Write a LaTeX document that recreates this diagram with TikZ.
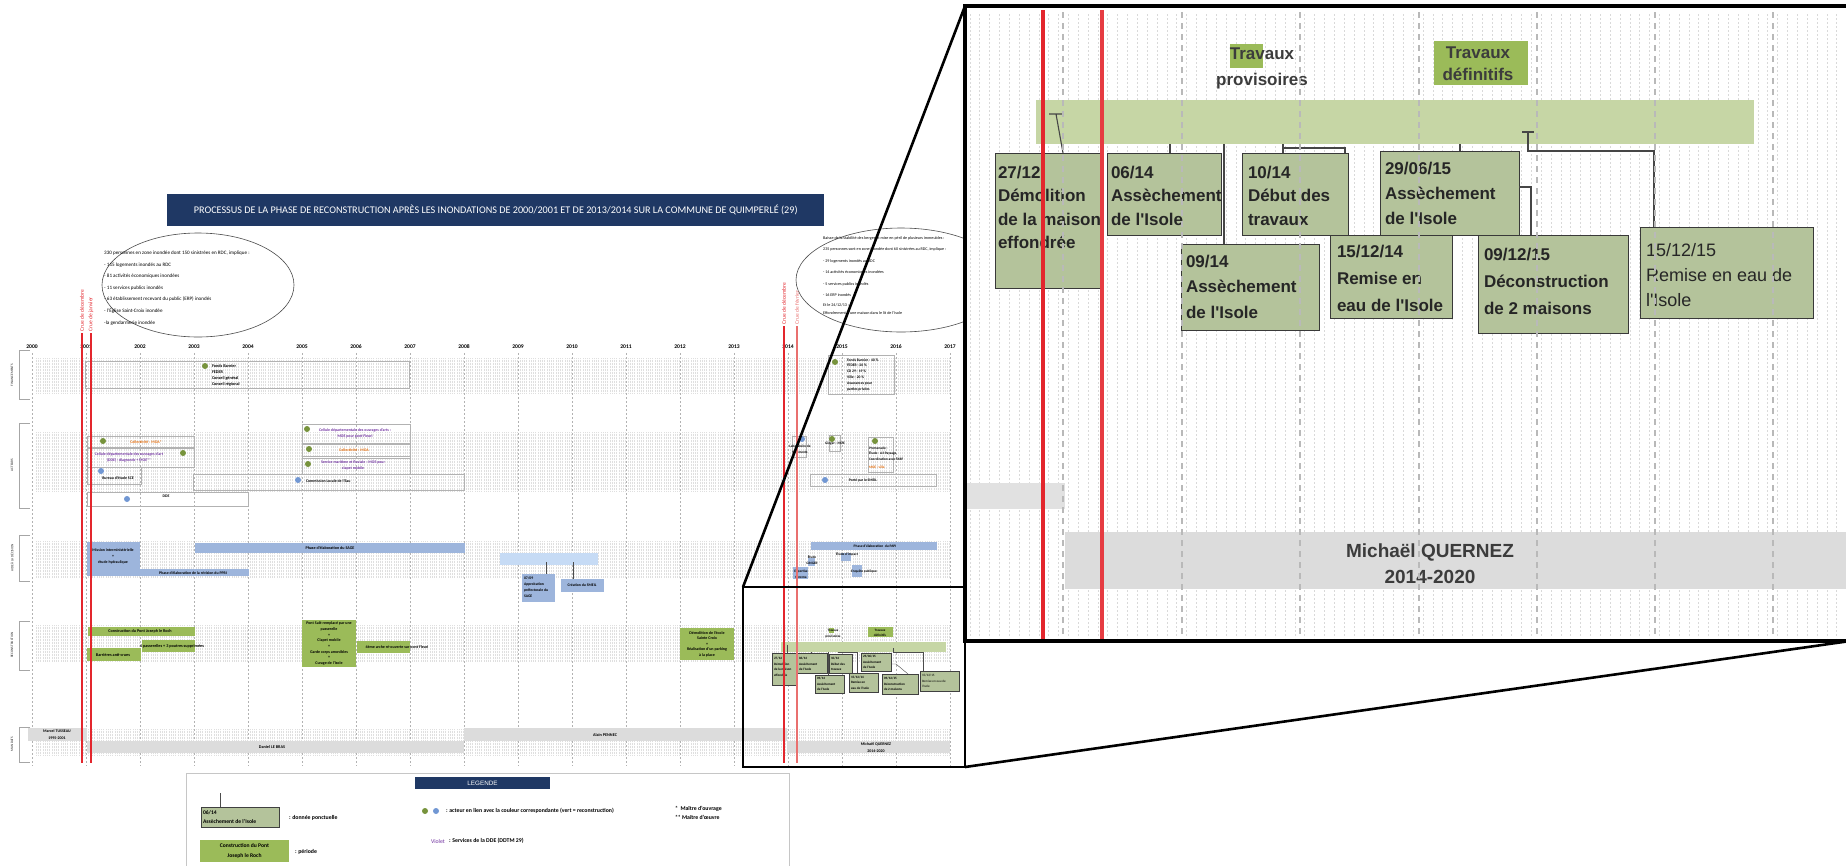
\documentclass[tikz,border=0pt]{standalone}
\usepackage{fontspec}
\setmainfont{Carlito}
\newfontfamily\arialfont{Liberation Sans}
\usetikzlibrary{calc,shapes.geometric}
\newcommand\fsz[2]{\fontsize{#1}{#2}\selectfont}
% rectangle node given by its two corners: name, x1, y1, x2, y2, style
\newcommand\rbox[6]{\node[#6, minimum width={(#4)-(#2)}, minimum height={(#5)-(#3)}, anchor=north west, inner sep=0pt, outer sep=0pt] (#1) at (#2,#3) {};}
\definecolor{navy}{HTML}{1F3864}
\definecolor{recgreen}{HTML}{9BBB59}
\definecolor{dotgreen}{HTML}{77933C}
\definecolor{dotblue}{HTML}{7197D3}
\definecolor{aideblue}{HTML}{9DB5DC}
\definecolor{aidelight}{HTML}{C6DBF5}
\definecolor{pointfill}{HTML}{B4C39B}
\definecolor{bandolive}{HTML}{C6D6A5}
\definecolor{mandatgrey}{HTML}{DCDCDC}
\definecolor{crue}{HTML}{E3262D}
\definecolor{cruelight}{HTML}{E9706F}
\definecolor{orangetxt}{HTML}{E46C0A}
\definecolor{violettxt}{HTML}{7030A0}
\definecolor{insettxt}{HTML}{262626}
\begin{document}
\begin{tikzpicture}[x=1pt, y=-1pt,
  yeargrid/.style={gray!60, line width=0.6, dash pattern=on 2pt off 2pt},
  monthdot/.style={gray!25, line width=0.45, dash pattern=on 0.6pt off 0.9pt},
  bracket/.style={gray!70, line width=0.8},
  frm/.style={draw=gray!60, line width=0.55},
  recbox/.style={fill=recgreen},
  aidebox/.style={fill=aideblue},
  ptbox/.style={fill=pointfill, draw=gray!50!black, line width=0.4},
  mandat/.style={fill=mandatgrey},
  gdot/.style={circle, fill=dotgreen, minimum size=6pt, inner sep=0pt},
  bdot/.style={circle, fill=dotblue, minimum size=6pt, inner sep=0pt},
  lbl/.style={inner sep=0pt, outer sep=0pt, font=\fsz{4.2}{5.6}\bfseries},
  tiny/.style={inner sep=0pt, outer sep=0pt, font=\fsz{3.3}{5.6}\bfseries},
  seclbl/.style={inner sep=0pt, rotate=90, font=\fsz{3.4}{4}, text=gray!30!black},
  crueline/.style={crue, line width=1.3},
  cruelbl/.style={inner sep=0pt, outer sep=0pt, rotate=90, anchor=west, font=\fsz{5.5}{6}},
  conn/.style={gray!60!black, line width=0.4},
  bigconn/.style={gray!55!black, line width=1.1},
  insetdot/.style={gray!30, line width=0.9, dash pattern=on 1.6pt off 2.4pt},
  insetgrid/.style={gray!55, line width=1.3, dash pattern=on 6pt off 5pt},
  bigbox/.style={fill=pointfill, draw=gray!45!black, line width=1},
  bigtxt/.style={inner sep=0pt, outer sep=0pt, align=left, anchor=west, text=insettxt, font=\arialfont\fsz{17}{23.5}\bfseries},
  legtxt/.style={inner sep=0pt, outer sep=0pt, font=\fsz{5.8}{9}\bfseries}
]
\useasboundingbox (0,0) rectangle (1846,865);
\fill[white] (0,0) rectangle (1846,865);

%% ---------- monthly dotted bands ----------
\draw[monthdot] \foreach \k in {0,...,406} { ({36+2.25*\k},358) -- ++(0,35) };
\draw[monthdot] \foreach \k in {0,...,406} { ({36+2.25*\k},432) -- ++(0,59) };
\draw[monthdot] \foreach \k in {0,...,406} { ({36+2.25*\k},541) -- ++(0,37) };
\draw[monthdot] \foreach \k in {0,...,406} { ({36+2.25*\k},625) -- ++(0,37) };
\draw[monthdot] \foreach \k in {0,...,406} { ({36+2.25*\k},729) -- ++(0,26) };

%% ---------- years ----------
\foreach \n in {0,...,17} {
  \draw[yeargrid] ({32+54*\n},353) -- ({32+54*\n},766);
  \node[inner sep=0pt, font=\fsz{5.6}{6}\bfseries] (yr\n) at ({32+54*\n},347) {\the\numexpr2000+\n\relax};
}

%% ---------- title ----------
\node[fill=navy, text=white, anchor=north west, minimum width=657, minimum height=32, inner sep=0pt, font=\fsz{10.2}{12}] (title) at (167,194)
  {PROCESSUS DE LA PHASE DE RECONSTRUCTION APRÈS LES INONDATIONS DE 2000/2001 ET DE 2013/2014 SUR LA COMMUNE DE QUIMPERLÉ (29)};

%% ---------- summaries of the two floods ----------
\node[draw=gray!60!black, line width=0.6, ellipse, minimum width=192, minimum height=104, inner sep=0pt] (ellA) at (198,285) {};
\node[inner sep=0pt, anchor=west, align=left, font=\fsz{5.1}{11.6}] (ellAtxt) at (104,288)
  {330 personnes en zone inondée dont 150 sinistrées en RDC, implique :\\
   - 115 logements inondés au RDC\\
   - 81 activités économiques inondées\\
   - 11 services publics inondés\\
   - 63 établissement recevant du public (ERP) inondés\\
   - l'Église Saint-Croix inondée\\
   -la gendarmerie inondée};
\node[draw=gray!60!black, line width=0.6, ellipse, minimum width=210, minimum height=104, inner sep=0pt] (ellB) at (901,280) {};
\node[inner sep=0pt, anchor=west, align=left, font=\fsz{4.1}{11.4}] (ellBtxt) at (823,275.5)
  {Baisse de la stabilité des berges et mise en péril de plusieurs immeubles :\\
   235 personnes sont en zone inondée dont 60 sinistrées au RDC, implique :\\
   - 29 logements inondés au RDC\\
   - 14 activités économiques inondées\\
   - 5 services publics inondés\\
   - 16 ERP inondés\\[-1.5pt]
   Et le 24/12/13 :\\[-3.5pt]
   Effondrement d'une maison dans le lit de l'Isole};

%% ---------- section brackets ----------
\draw[bracket] (30,350) -- (19,350) -- (19,399) -- (30,399);
\node[seclbl] (sfin) at (12,375) {FINANCEMENTS};
\draw[bracket] (30,423) -- (19,423) -- (19,508) -- (30,508);
\node[seclbl] (sact) at (12,465) {ACTEURS};
\draw[bracket] (30,535) -- (19,535) -- (19,581) -- (30,581);
\node[seclbl] (said) at (12,558) {AIDE À LA DÉCISION};
\draw[bracket] (30,621) -- (19,621) -- (19,670) -- (30,670);
\node[seclbl] (srec) at (12,645) {RECONSTRUCTION};
\draw[bracket] (30,727) -- (19,727) -- (19,762) -- (30,762);
\node[seclbl] (sman) at (12,744) {MANDATS};

%% ---------- financements ----------
\rbox{fin1}{85}{361}{409}{388}{frm}
\node[gdot] (fin1d) at (205,366) {};
\node[lbl, anchor=west, align=left, font=\fsz{4.2}{6}\bfseries] (fin1t) at (212,375) {Fonds Barnier\\FEDER\\Conseil général\\Conseil régional};
\rbox{fin2}{828}{355}{894}{394}{frm}
\node[gdot] (fin2d) at (835,362) {};
\node[lbl, anchor=west, align=left, font=\fsz{3.7}{5.8}\bfseries] (fin2t) at (847,374.5) {Fonds Barnier : 40 \%\\FEDER : 20 \%\\CD 29 : 19 \%\\Ville : 20 \%\\Assurances pour\\parties privées};

%% ---------- acteurs ----------
\rbox{a1}{87}{436}{194}{447}{frm}
\node[gdot] (a1d) at (103,441) {};
\node[lbl, font=\fsz{3.9}{5}\bfseries, text=orangetxt] (a1t) at (146,442) {Collectivité : MOA*};
\rbox{a2}{87}{448}{194}{467}{frm}
\node[gdot] (a2d) at (183,453) {};
\node[lbl, font=\fsz{3.9}{6}\bfseries, text=violettxt, align=center] (a2t) at (129,457.5) {Cellule départementale des ouvrages d'art\\(DDE) : diagnostic + MOE**};
\rbox{a3}{87}{467}{141}{484}{frm}
\node[bdot] (a3d) at (101,471) {};
\node[lbl, font=\fsz{3.9}{5}\bfseries] (a3t) at (118,478) {Bureau d'étude SCE};
\rbox{a4}{193}{474}{464}{490}{frm}
\node[bdot] (a4d) at (298,480) {};
\node[lbl, font=\fsz{3.9}{5}\bfseries, anchor=west] (a4t) at (306,481) {Commission Locale de l'Eau};
\rbox{a5}{87}{492}{248}{506}{frm}
\node[bdot] (a5d) at (127,499) {};
\node[lbl, font=\fsz{3.9}{5}\bfseries] (a5t) at (166,496) {DDE};
\rbox{a6}{302}{424}{410}{443}{frm}
\node[gdot] (a6d) at (307,429) {};
\node[lbl, font=\fsz{3.9}{6}\bfseries, text=violettxt, align=center] (a6t) at (355,433) {Cellule départementale des ouvrages d'arts :\\MOE pour pont Fleuri};
\rbox{a7}{302}{444}{410}{456}{frm}
\node[gdot] (a7d) at (309,449) {};
\node[lbl, font=\fsz{3.9}{5}\bfseries, text=orangetxt] (a7t) at (354,450) {Collectivité : MOA};
\rbox{a8}{302}{458}{410}{474}{frm}
\node[gdot] (a8d) at (308,464) {};
\node[lbl, font=\fsz{3.9}{6.5}\bfseries, text=violettxt, align=center] (a8t) at (353,465.5) {Service maritime et fluviale : MOE pour\\clapet mobile};
% 2014 actors
\rbox{b1}{792}{436}{806}{457}{frm}
\node[bdot] (b1d) at (802,439) {};
\node[lbl, font=\fsz{3.5}{5.8}\bfseries, align=center] (b1t) at (800,449) {Laboratoire de\\Sédiments};
\rbox{b2}{829}{435}{840}{451}{frm}
\node[gdot] (b2d) at (832,439) {};
\node[lbl, font=\fsz{3.5}{5}\bfseries] (b2t) at (835,444) {Ginger : MOE};
\rbox{b3}{868}{437}{893}{472}{frm}
\node[gdot] (b3d) at (875,441) {};
\node[lbl, font=\fsz{3.5}{5.7}\bfseries, align=left, anchor=west] (b3t) at (869,457.5) {Promenade :\\Étude : A3 Paysage\\Coordination avec l'ABF\\[2pt]{\color{orangetxt}MOE : ville}};
\rbox{b4}{810}{474}{936}{486}{frm}
\node[bdot] (b4d) at (825,480) {};
\node[lbl, font=\fsz{3.7}{5}\bfseries] (b4t) at (863,480) {Porté par le SMEIL};

%% ---------- aide à la décision ----------
\rbox{c1}{87}{542}{140}{576}{aidebox}
\node[lbl, font=\fsz{3.9}{6}\bfseries, align=center] (c1t) at (113,556) {Mission interministérielle\\+\\étude hydraulique};
\rbox{c2}{195}{543}{465}{553}{aidebox}
\node[lbl, font=\fsz{4.1}{5}\bfseries] (c2t) at (330,548) {Phase d'élaboration du SAGE};
\rbox{c3}{140}{569}{249}{576}{aidebox}
\node[lbl, font=\fsz{3.9}{5}\bfseries] (c3t) at (193,573) {Phase d'élaboration de la révision du PPRI};
\rbox{c4}{500}{553}{598}{565}{fill=aidelight}
\rbox{c5}{522}{574}{555}{602}{aidebox}
\node[lbl, font=\fsz{3.8}{6}\bfseries, align=left, anchor=west] (c5t) at (524,587.5) {07/09\\Approbation\\préfectorale du\\SAGE};
\rbox{c6}{561}{579}{604}{592}{aidebox}
\node[lbl, font=\fsz{3.8}{5}\bfseries] (c6t) at (582,585) {Création du SMEIL};
\draw[conn] ($(c4.south west)+(46,-3)$) -- ($(c5.north west)+(24,0)$);
\draw[conn] ($(c4.south west)+(73,-3)$) -- ($(c6.north west)+(12,0)$);
% 2014 studies
\rbox{d1}{811}{542}{937}{550}{aidebox}
\node[lbl, font=\fsz{3.6}{5}\bfseries] (d1t) at (875,546) {Phase d'élaboration~~du PAPI};
\rbox{d2}{808}{558}{815}{566}{aidebox}
\node[lbl, font=\fsz{3.5}{5.8}\bfseries, align=center] (d2t) at (812,560) {Étude\\GINGER};
\rbox{d3}{841}{553}{851}{561}{aidebox}
\node[lbl, font=\fsz{3.5}{5}\bfseries] (d3t) at (847,554) {Étude d'impact};
\rbox{d4}{852}{565}{862}{577}{aidebox}
\node[lbl, font=\fsz{3.5}{5}\bfseries] (d4t) at (864,572) {Enquête publique};
\rbox{d5}{793}{567}{808}{579}{aidebox}
\node[lbl, font=\fsz{3.5}{5.8}\bfseries, align=center] (d5t) at (801,574) {Expertise\\Cerema};

%% ---------- reconstruction ----------
\rbox{e1}{88}{627}{195}{636}{recbox}
\node[lbl] (e1t) at (140,631.5) {Construction du Pont Joseph le Roch};
\rbox{e2}{142}{640}{195}{652}{recbox}
\node[lbl] (e2t) at (172,646) {4 passerelles + 3 poutres supprimées};
\rbox{e3}{87}{648}{141}{661}{recbox}
\node[lbl] (e3t) at (113,655) {Barrières anti-crues};
\rbox{e4}{302}{620}{356}{667}{recbox}
\node[lbl, font=\fsz{4}{5.7}\bfseries, align=center] (e4t) at (329,643.5) {Pont Salé remplacé par une\\passerelle\\+\\Clapet mobile\\+\\Garde corps amovibles\\+\\Curage de l'Isole};
\rbox{e5}{357}{641}{410}{653}{recbox}
\node[lbl, font=\fsz{4}{5}\bfseries] (e5t) at (397,647) {4ème arche ré-ouverte sur pont Fleuri};
\rbox{e6}{680}{628}{734}{660}{recbox}
\node[lbl, font=\fsz{4}{5.5}\bfseries, align=center] (e6t) at (707,644) {Démolition de l'école\\Sainte Croix\\+\\Réalisation d'un parking\\à la place};
% 2014 works, small scale
\rbox{f0}{781}{642}{946}{652}{fill=bandolive}
\rbox{fp}{829}{628}{834}{633}{recbox}
\node[tiny, align=center, font=\fsz{3.3}{6}\bfseries] (fpt) at (833,634) {Travaux\\provisoires};
\rbox{fd}{868}{627}{893}{637}{recbox}
\node[tiny, align=center, font=\fsz{3.3}{5}\bfseries] (fdt) at (880,632.5) {Travaux\\définitifs};
\rbox{f1}{772}{653}{797}{685}{ptbox}
\node[tiny, align=left, anchor=west] (f1t) at (774,667) {27/12\\Démolition\\de la maison\\effondrée};
\rbox{f2}{797}{653}{827}{673}{ptbox}
\node[tiny, align=left, anchor=west] (f2t) at (799,664) {06/14\\Assèchement\\de l'Isole};
\rbox{f3}{815}{675}{844}{693}{ptbox}
\node[tiny, align=left, anchor=west] (f3t) at (817,684) {09/14\\Assèchement\\de l'Isole};
\rbox{f4}{829}{654}{852}{673}{ptbox}
\node[tiny, align=left, anchor=west] (f4t) at (831,664) {10/14\\Début des\\travaux};
\rbox{f5}{849}{673}{878}{692}{ptbox}
\node[tiny, align=left, anchor=west] (f5t) at (851,682.5) {15/12/14\\Remise en\\eau de l'Isole};
\rbox{f6}{861}{653}{891}{671}{ptbox}
\node[tiny, align=left, anchor=west] (f6t) at (863,662) {29/06/15\\Assèchement\\de l'Isole};
\rbox{f7}{882}{674}{918}{694}{ptbox}
\node[tiny, align=left, anchor=west] (f7t) at (884,684) {09/12/15\\Déconstruction\\de 2 maisons};
\rbox{f8}{920}{671}{959}{691}{ptbox}
\node[tiny, align=left, anchor=west, font=\fsz{3.3}{5.6}] (f8t) at (922,681) {15/12/15\\Remise en eau de\\l'Isole};
\draw[conn] ($(f0.north west)+(6,3)$) -- ($(f1.north west)+(15,0)$);
\draw[conn] ($(f0.south west)+(30,0)$) -- ($(f2.north west)+(14,0)$);
\draw[conn] ($(f0.south west)+(47,0)$) -- ($(f3.north west)+(13,0)$);
\draw[conn] ($(f0.south west)+(57,0)$) -- ++(19,0) -- ($(f5.north west)+(8,0)$);
\draw[conn] ($(f6.east)+(0,2)$) -- ++(5,0) -- ($(f7.north west)+(26,0)$);
\draw[conn] ($(f0.north west)+(112,6)$) -- ++(0,4) -- ++(30,0) -- ($(f8.north west)+(3,0)$);

%% ---------- mandats ----------
\rbox{m1}{28}{728}{87}{741}{mandat}
\node[lbl, font=\fsz{4}{6.5}\bfseries, align=center] (m1t) at (57,734.5) {Marcel TUSSEAU\\1995-2001};
\rbox{m2}{87}{741}{464}{753}{mandat}
\node[lbl, font=\fsz{4.2}{5}\bfseries] (m2t) at (272,747) {Daniel LE BRAS};
\rbox{m3}{464}{728}{787}{741}{mandat}
\node[lbl, font=\fsz{4.2}{5}\bfseries] (m3t) at (605,735) {Alain PENNEC};
\rbox{m4}{787}{741}{950}{753}{mandat}
\node[lbl, font=\fsz{4}{6.5}\bfseries, align=center] (m4t) at (876,747.5) {Michaël QUERNEZ\\2014-2020};

%% ---------- floods ----------
\node[cruelbl, text=crue] (cr1) at (82,331) {Crue de décembre};
\draw[crueline] ($(cr1.west)+(0,2)$) -- (82,763);
\node[cruelbl, text=crue] (cr2) at (91,331) {Crue de janvier};
\draw[crueline] ($(cr2.west)+(0,2)$) -- (91,763);
\node[cruelbl, text=crue] (cr3) at (784,324) {Crue de décembre};
\draw[crueline] ($(cr3.west)+(0,2)$) -- (784,763);
\node[cruelbl, text=cruelight] (cr4) at (797,324) {Crue de février};
\draw[crueline, cruelight] ($(cr4.west)+(0,2)$) -- (797,763);

%% ---------- legend ----------
\rbox{leg}{186}{773}{789}{880}{draw=gray!45, line width=0.9}
\rbox{legt}{415}{777}{550}{789}{fill=navy}
\node[inner sep=0pt, text=white, font=\arialfont\fsz{6.3}{7}] (legtt) at (legt.center) {LEGENDE};
\rbox{lp}{201}{807}{279}{827}{ptbox}
\draw[conn, line width=0.6] (lp.north west) ++(19,0) -- ++(0,-14);
\node[legtxt, align=left, anchor=west, font=\fsz{5.6}{9}\bfseries] (lpt) at (203,817.5) {06/14\\Assèchement de l'Isole};
\node[legtxt, anchor=west] (lpl) at (289,818) {: donnée ponctuelle};
\rbox{lq}{200}{840}{289}{862}{recbox}
\node[legtxt, align=center, font=\fsz{5.6}{9.5}\bfseries] (lqt) at (244.5,851) {Construction du Pont\\Joseph le Roch};
\node[legtxt, anchor=west] (lql) at (295,852) {: période};
\node[gdot] (lg1) at (425,811) {};
\node[bdot] (lg2) at (436,811) {};
\node[legtxt, anchor=west] (lgl) at (446,810.5) {: acteur en lien avec la couleur correspondante (vert = reconstruction)};
\node[legtxt, anchor=west, font=\fsz{5.8}{9}, text=violettxt] (lvv) at (431,841) {Violet};
\node[legtxt, anchor=west] (lvl) at (449,841) {: Services de la DDE (DDTM 29)};
\node[legtxt, anchor=west, align=left] (lst) at (675,812.5) {*~~Maître d'ouvrage\\** Maître d'œuvre};

%% ---------- enlarged view of the 2014 works ----------
\node[fill=white, anchor=north west, minimum width=885, minimum height=635, inner sep=0pt, outer sep=0pt] (zoomview) at (965,6) {};
\begin{scope}
\clip (965,6) rectangle (1846,641);
\draw[insetdot] \foreach \k in {0,...,89} { ({970+9.85*\k},14) -- ++(0,624) };
\rbox{zq0}{960}{483}{1065}{509}{fill=mandatgrey!85}
\rbox{zq1}{1065}{532}{1850}{589}{fill=mandatgrey}
\node[inner sep=0pt, align=center, text=insettxt!90, font=\arialfont\fsz{19}{26}\bfseries] (zq1t) at (1430,564) {Michaël QUERNEZ\\2014-2020};
\rbox{zp}{1230}{44}{1263}{68}{recbox}
\node[inner sep=0pt, align=center, text=insettxt!90, font=\arialfont\fsz{17}{26}\bfseries] (zpt) at (1262,68) {Travaux\\provisoires};
\rbox{zd}{1434}{41}{1528}{85}{recbox}
\node[inner sep=0pt, align=center, text=insettxt!90, font=\arialfont\fsz{17}{22}\bfseries] (zdt) at (1478,64) {Travaux\\définitifs};
\rbox{z0}{1036}{100}{1754}{144}{fill=bandolive}
% connectors from the work band to the dated events
\draw[bigconn] ($(z0.north west)+(20,14)$) ++(-7,0) -- ++(14,0) ++(-7,0) -- ($(z0.north west)+(27,53)$);
\draw[bigconn] ($(z0.south west)+(134,0)$) -- ($(z0.south west)+(134,9)$);
\draw[bigconn] ($(z0.south west)+(188,0)$) -- ($(z0.south west)+(188,100)$);
\draw[bigconn] ($(z0.south west)+(247,0)$) -- ($(z0.south west)+(247,9)$);
\draw[bigconn] ($(z0.south west)+(247,4)$) -- ++(62,0) -- ($(z0.south west)+(309,91)$);
\draw[bigconn] ($(z0.south west)+(424,0)$) -- ($(z0.south west)+(424,7)$);
\draw[bigconn] ($(z0.north west)+(492,32)$) ++(-6,0) -- ++(12,0) ++(-6,0) -- ++(0,19) -- ++(126,0) -- ($(z0.south west)+(618,83)$);
\rbox{z1}{995}{153}{1101}{288}{bigbox}
\node[bigtxt] (z1t) at (998,207.5) {27/12\\Démolition\\de la maison\\effondrée};
\rbox{z2}{1107}{153}{1221}{235}{bigbox}
\node[bigtxt] (z2t) at (1111,195.5) {06/14\\Assèchement\\de l'Isole};
\rbox{z3}{1242}{153}{1348}{235}{bigbox}
\node[bigtxt] (z3t) at (1248,195.5) {10/14\\Début des\\travaux};
\rbox{z4}{1380}{151}{1519}{235}{bigbox}
\node[bigtxt, font=\arialfont\fsz{17}{25}\bfseries] (z4t) at (1385,193) {29/06/15\\Assèchement\\de l'Isole};
\draw[bigconn] (z4.east) ++(0,-6) -- ++(12,0) -- ($(z4.south east)+(12,0)$);
\rbox{z5}{1181}{244}{1319}{330}{bigbox}
\node[bigtxt, font=\arialfont\fsz{17}{25.5}\bfseries] (z5t) at (1186,286.5) {09/14\\Assèchement\\de l'Isole};
\rbox{z6}{1330}{235}{1452}{318}{bigbox}
\node[bigtxt, font=\arialfont\fsz{17}{27}\bfseries] (z6t) at (1337,278) {15/12/14\\Remise en\\eau de l'Isole};
\rbox{z7}{1478}{235}{1628}{333}{bigbox}
\node[bigtxt, font=\arialfont\fsz{17}{27}\bfseries] (z7t) at (1484,281) {09/12/15\\Déconstruction\\de 2 maisons};
\rbox{z8}{1640}{227}{1813}{318}{bigbox}
\node[bigtxt, font=\arialfont\fsz{18}{25}] (z8t) at (1646,275) {15/12/15\\Remise en eau de\\l'Isole};
% yearly grid and floods drawn over the events
\foreach \gx in {1063,1182,1300,1419,1537,1655,1773}
  \draw[insetgrid] (\gx,12) -- (\gx,638);
\draw[crue, line width=4] (1043,10) -- (1043,640);
\draw[crue!90!white, line width=4] (1102,10) -- (1102,640);
\end{scope}
\draw[black, line width=4.5] (zoomview.north east) -- (zoomview.north west) -- (zoomview.south west) -- (zoomview.south east);

%% ---------- frame of the enlarged area ----------
\node[draw=black, line width=2.6, anchor=north west, minimum width=222, minimum height=180, inner sep=0pt, outer sep=0pt] (zoomsrc) at (743,587) {};
\draw[black, line width=2.6] (zoomsrc.north west) -- (zoomview.north west);
\draw[black, line width=2.6] (zoomsrc.south east) -- (zoomview.south east);
\end{tikzpicture}
\end{document}
